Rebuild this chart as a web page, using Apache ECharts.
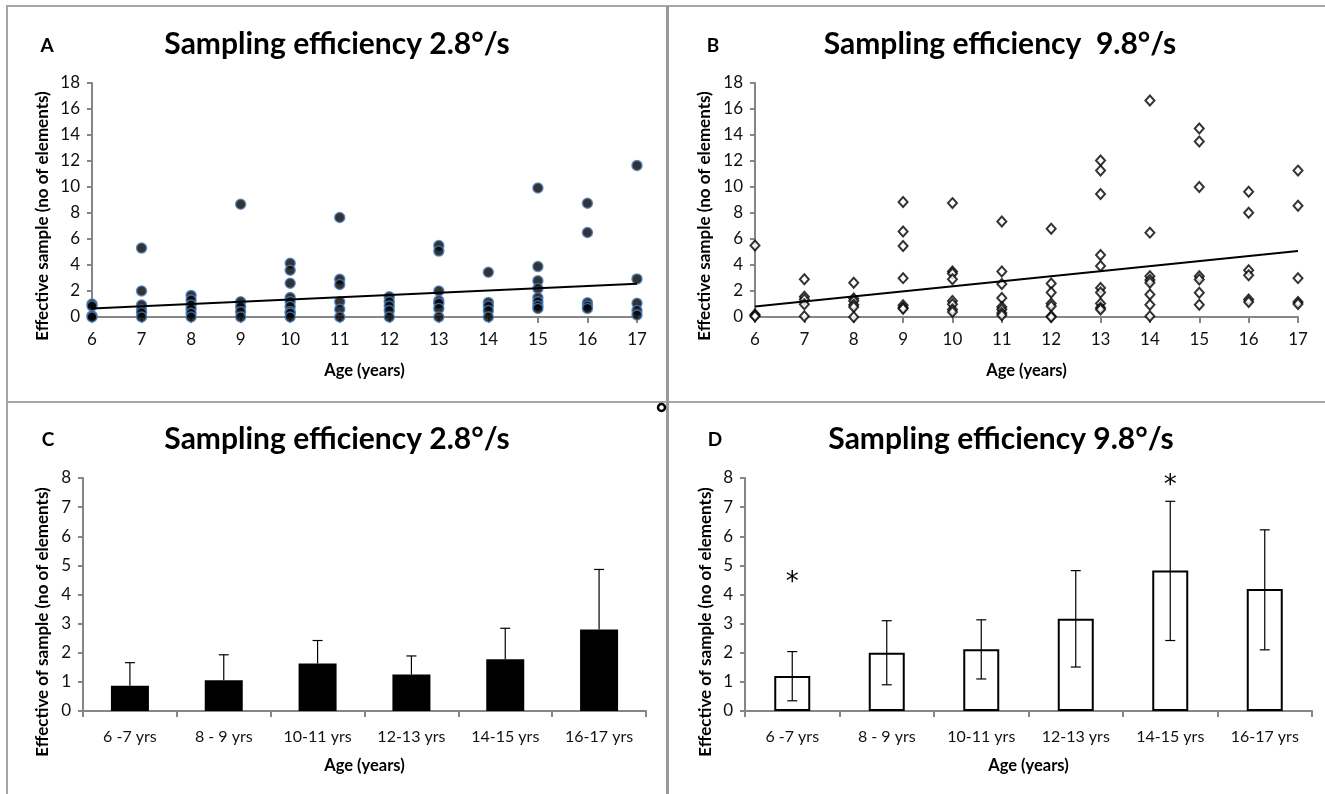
<!DOCTYPE html>
<html>
<head>
<meta charset="utf-8">
<script src="https://cdn.jsdelivr.net/npm/echarts@6/dist/echarts.min.js"></script>
<style>
html,body{margin:0;padding:0;background:#fff;}
#c{width:1325px;height:794px;}
</style>
</head>
<body>
<div id="c"></div>
<script>
// ---------- DATA ----------
const ages = [6, 7, 8, 9, 10, 11, 12, 13, 14, 15, 16, 17];

// Panel A: effective sample per child at 2.8°/s, grouped by age
const effA = [
  [1.0, 0.85, 0.1, 0],
  [5.3, 2.0, 0.92, 0.54, 0.33, 0],
  [1.66, 1.3, 0.92, 0.64, 0.28, 0],
  [8.67, 1.17, 0.79, 0.4, 0],
  [4.13, 3.6, 2.6, 1.5, 1.17, 0.8, 0.4, 0.28, 0],
  [7.65, 2.9, 2.5, 1.17, 0.6, 0],
  [1.55, 1.17, 0.85, 0.5, 0],
  [5.5, 5.07, 2.0, 1.25, 1.05, 0.66, 0],
  [3.44, 1.12, 0.85, 0.5, 0],
  [9.92, 3.88, 2.78, 2.19, 1.48, 1.17, 0.87, 0.66],
  [8.75, 6.5, 1.1, 0.84, 0.66],
  [11.66, 2.93, 1.05, 0.5, 0.15]
];
// Panel B: effective sample per child at 9.8°/s, grouped by age
const effB = [
  [5.5, 0.2, 0.1, 0.05],
  [2.9, 1.55, 1.35, 0.98, 0.05],
  [2.63, 1.42, 1.24, 0.95, 0.77, 0],
  [8.84, 6.57, 5.46, 2.99, 0.9, 0.72, 0.64],
  [8.76, 3.5, 3.35, 2.9, 1.24, 0.98, 0.57, 0.39],
  [7.35, 3.5, 2.53, 1.47, 0.77, 0.57, 0.31, 0.13],
  [6.78, 2.58, 1.88, 1.03, 0.82, 0.05, 0],
  [12.04, 11.26, 9.46, 4.77, 3.92, 2.24, 1.88, 1.03, 0.72, 0.57],
  [16.65, 6.49, 3.14, 2.84, 2.63, 1.73, 0.95, 0.05],
  [14.5, 13.5, 10.0, 3.14, 2.89, 1.86, 0.95],
  [9.64, 8.02, 3.6, 3.22, 1.34, 1.16],
  [11.26, 8.56, 2.99, 1.16, 1.0]
];
// Linear trend lines (end points)
const trendA = [[6, 0.66], [17, 2.55]];
const trendB = [[6, 0.8], [17, 5.08]];

// Panels C and D: group means with error bars
const ageGroups = ['6 -7 yrs', '8 - 9 yrs', '10-11 yrs', '12-13 yrs', '14-15 yrs', '16-17 yrs'];
const meanC = [0.87, 1.06, 1.63, 1.25, 1.78, 2.8];
const highC = [1.66, 1.93, 2.42, 1.89, 2.84, 4.86];
const meanD = [1.2, 2.0, 2.12, 3.17, 4.82, 4.19];
const lowD  = [0.35, 0.9, 1.1, 1.51, 2.42, 2.1];
const highD = [2.04, 3.1, 3.13, 4.82, 7.2, 6.22];
// significance markers in panel D: [group index, value]
const starsD = [[0, 4.67], [4, 8.0]];

const titleA = 'Sampling efficiency 2.8°/s';
const titleB = 'Sampling efficiency  9.8°/s';
const titleC = 'Sampling efficiency 2.8°/s';
const titleD = 'Sampling efficiency 9.8°/s';
const yNameScatter = 'Effective sample (no of elements)';
const yNameBar = 'Effective of sample (no of elements)';
const xName = 'Age (years)';

// ---------- BUILD ----------
const FONT = 'Lato, "Open Sans", sans-serif';
const AXIS_COLOR = '#868686';

function flatten(groups) {
  const out = [];
  groups.forEach((vals, i) => vals.forEach(v => out.push([ages[i], v])));
  return out;
}

function valueX(gi) {
  return {
    type: 'value', gridIndex: gi, min: 6, max: 17, interval: 1,
    name: xName, nameLocation: 'middle', nameGap: 45,
    nameTextStyle: {fontFamily: FONT, fontWeight: 'bold', fontSize: 16.5, color: '#000'},
    axisLine: {show: true, onZero: false, lineStyle: {color: AXIS_COLOR, width: 2}},
    axisTick: {show: true, length: 6, lineStyle: {color: AXIS_COLOR, width: 2}},
    axisLabel: {fontFamily: FONT, fontSize: 17, color: '#111', margin: 14},
    splitLine: {show: false}
  };
}
function valueY(gi, max, interval) {
  return {
    type: 'value', gridIndex: gi, min: 0, max: max, interval: interval,
    axisLine: {show: true, lineStyle: {color: AXIS_COLOR, width: 2}},
    axisTick: {show: true, length: 5, lineStyle: {color: AXIS_COLOR, width: 2}},
    axisLabel: {fontFamily: FONT, fontSize: 17, color: '#111', margin: 12},
    splitLine: {show: false}
  };
}
function catX(gi) {
  return {
    type: 'category', gridIndex: gi, data: ageGroups,
    name: xName, nameLocation: 'middle', nameGap: 46,
    nameTextStyle: {fontFamily: FONT, fontWeight: 'bold', fontSize: 16.5, color: '#000'},
    axisLine: {show: true, lineStyle: {color: AXIS_COLOR, width: 2}},
    axisTick: {show: true, length: 6, lineStyle: {color: AXIS_COLOR, width: 2}},
    axisLabel: {fontFamily: FONT, fontSize: 16, color: '#111', margin: 18},
    splitLine: {show: false}
  };
}

function errRender(capLow) {
  return function (params, api) {
    const idx = api.value(0), lo = api.value(1), hi = api.value(2);
    const pLo = api.coord([idx, lo]);
    const pHi = api.coord([idx, hi]);
    const hw = 5;
    const st = {stroke: '#000', lineWidth: 1.2};
    const ch = [
      {type: 'line', shape: {x1: pHi[0], y1: pHi[1], x2: pLo[0], y2: pLo[1]}, style: st},
      {type: 'line', shape: {x1: pHi[0] - hw, y1: pHi[1], x2: pHi[0] + hw, y2: pHi[1]}, style: st}
    ];
    if (capLow) ch.push({type: 'line', shape: {x1: pLo[0] - hw, y1: pLo[1], x2: pLo[0] + hw, y2: pLo[1]}, style: st});
    return {type: 'group', children: ch};
  };
}

function text(x, y, t, size) {
  return {
    type: 'text', x: x, y: y,
    style: {text: t, fontFamily: FONT, fontWeight: 'bold', fontSize: size, fill: '#000',
            textAlign: 'center', textVerticalAlign: 'middle'}
  };
}
function vtext(x, y, t) {
  return {
    type: 'text', x: x, y: y, rotation: Math.PI / 2,
    style: {text: t, fontFamily: FONT, fontWeight: 'bold', fontSize: 17, fill: '#000',
            textAlign: 'center', textVerticalAlign: 'middle'}
  };
}
const frame = {stroke: '#a6a6a6', lineWidth: 2};

const option = {
  backgroundColor: '#fff',
  animation: false,
  grid: [
    {left: 92, top: 83, width: 545, height: 234},
    {left: 755, top: 83, width: 543, height: 234},
    {left: 83, top: 478, width: 563, height: 233},
    {left: 745, top: 478, width: 567, height: 233}
  ],
  xAxis: [valueX(0), valueX(1), catX(2), catX(3)],
  yAxis: [valueY(0, 18, 2), valueY(1, 18, 2), valueY(2, 8, 1), valueY(3, 8, 1)],
  series: [
    {
      type: 'scatter', xAxisIndex: 0, yAxisIndex: 0, data: flatten(effA),
      symbol: 'circle', symbolSize: 10,
      itemStyle: {color: '#000', borderColor: '#4a7ebb', borderWidth: 1.5}, z: 3
    },
    {
      type: 'line', xAxisIndex: 0, yAxisIndex: 0, data: trendA, showSymbol: false, symbol: 'none',
      lineStyle: {color: '#000', width: 2}, z: 4
    },
    {
      type: 'scatter', xAxisIndex: 1, yAxisIndex: 1, data: flatten(effB),
      symbol: 'diamond', symbolSize: [9, 10],
      itemStyle: {color: '#fff', borderColor: '#000', borderWidth: 2}, z: 3
    },
    {
      type: 'line', xAxisIndex: 1, yAxisIndex: 1, data: trendB, showSymbol: false, symbol: 'none',
      lineStyle: {color: '#000', width: 2}, z: 4
    },
    {
      type: 'bar', xAxisIndex: 2, yAxisIndex: 2, data: meanC, barWidth: 38,
      itemStyle: {color: '#000'}
    },
    {
      type: 'custom', xAxisIndex: 2, yAxisIndex: 2, z: 5,
      data: meanC.map((m, i) => [i, m, highC[i]]),
      encode: {x: 0, y: [1, 2]},
      renderItem: errRender(false)
    },
    {
      type: 'bar', xAxisIndex: 3, yAxisIndex: 3, data: meanD, barWidth: 36,
      itemStyle: {color: '#fff', borderColor: '#000', borderWidth: 2}
    },
    {
      type: 'custom', xAxisIndex: 3, yAxisIndex: 3, z: 5,
      data: meanD.map((m, i) => [i, lowD[i], highD[i]]),
      encode: {x: 0, y: [1, 2]},
      renderItem: errRender(true)
    },
    {
      type: 'custom', xAxisIndex: 3, yAxisIndex: 3, z: 6, clip: false,
      data: starsD,
      encode: {x: 0, y: 1},
      renderItem: function (params, api) {
        const p = api.coord([api.value(0), api.value(1)]);
        return {type: 'text', x: p[0], y: p[1] + 8,
          style: {text: '*', fontFamily: '"DejaVu Sans", sans-serif', fontSize: 26, fill: '#000',
                  textAlign: 'center', textVerticalAlign: 'middle'}};
      }
    }
  ],
  graphic: [
    {type: 'line', shape: {x1: 6, y1: 6, x2: 1325, y2: 6}, style: frame},
    {type: 'line', shape: {x1: 7, y1: 6, x2: 7, y2: 794}, style: frame},
    {type: 'line', shape: {x1: 6, y1: 402, x2: 1325, y2: 402}, style: frame},
    {type: 'line', shape: {x1: 667.5, y1: 6, x2: 667.5, y2: 794}, style: {stroke: '#999', lineWidth: 3}},
    {type: 'circle', shape: {cx: 661.5, cy: 407.5, r: 3.5}, style: {fill: '#fff', stroke: '#000', lineWidth: 2.5}},
    text(337, 44, titleA, 30),
    text(1000, 44, titleB, 30),
    text(337, 439, titleC, 30),
    text(1001, 439, titleD, 30),
    text(47, 46, 'A', 19),
    text(713, 46, 'B', 19),
    text(48, 440, 'C', 19),
    text(715, 440, 'D', 19),
    vtext(43, 216, yNameScatter),
    vtext(705, 216, yNameScatter),
    vtext(43, 622, yNameBar),
    vtext(706, 622, yNameBar)
  ]
};

const chart = echarts.init(document.getElementById('c'), null, {renderer: 'canvas'});
chart.setOption(option);
</script>
</body>
</html>
